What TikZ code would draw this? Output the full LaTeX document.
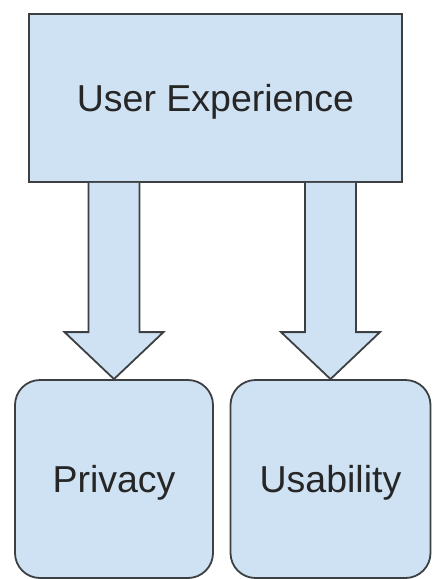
\documentclass[tikz,border=0pt]{standalone}
\usepackage{fontspec}
\setmainfont{Liberation Sans}
\usepackage{xcolor}
\usetikzlibrary{calc}
\definecolor{boxblue}{HTML}{CFE2F3}
\definecolor{boxline}{HTML}{3C4043}
\tikzset{
  box/.style = {draw = boxline, fill = boxblue, line width = 1.8pt, text = black!85,
    font = \fontsize{37.5}{44}\selectfont, inner sep = 0pt, text depth = 0pt},
  fatarrow/.style = {draw = boxline, fill = boxblue, line width = 1.8pt, line join = miter},
}
\newcommand{\blockarrow}[2]{%
  \draw [fatarrow] let \p1 = (#2.north), \p2 = (#1.south) in
    (\x1-25.5pt,\y2) -- (\x1-25.5pt,\y1+47pt) -- (\x1-49.5pt,\y1+47pt) -- (\x1,\y1)
    -- (\x1+49.5pt,\y1+47pt) -- (\x1+25.5pt,\y1+47pt) -- (\x1+25.5pt,\y2);}

\begin{document}
\begin{tikzpicture}[x = 1pt, y = -1pt]
			\def\r{25};
			\useasboundingbox (0,0) rectangle (432,579);

			\begin{scope}
				\node [box, minimum width = 373, minimum height = 168] (ux) at (215.5,98) {User Experience};
				\node [box, rounded corners = \r, minimum width = 198, minimum height = 198] (priv) at (114,479) {Privacy};
				\node [box, rounded corners = \r, minimum width = 200, minimum height = 198] (usab) at (330.5,479) {Usability};
			\end{scope}

			\begin{scope}
				\blockarrow{ux}{priv}
				\blockarrow{ux}{usab}
			\end{scope}
		\end{tikzpicture}
\end{document}
